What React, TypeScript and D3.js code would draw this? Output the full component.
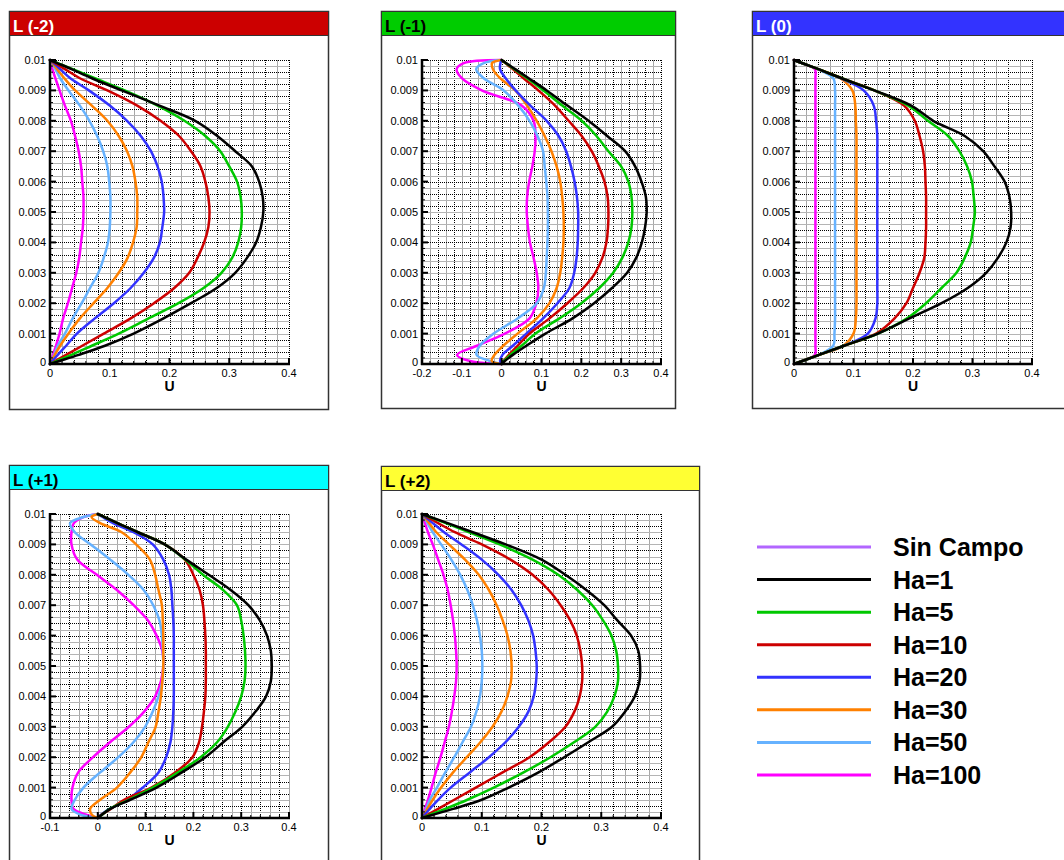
import React from "react";
import * as d3 from "d3";

// wall-normal positions (m) at which the U profiles were read
const Y_LEVELS = [0, 0.0001, 0.0003, 0.0006, 0.001, 0.0015, 0.002, 0.0025, 0.003, 0.0035, 0.004, 0.0045, 0.005, 0.0055, 0.006, 0.0065, 0.007, 0.0075, 0.008, 0.0085, 0.009, 0.0094, 0.0097, 0.0099, 0.01];

const SERIES_NAMES = ["Sin Campo", "Ha=1", "Ha=5", "Ha=10", "Ha=20", "Ha=30", "Ha=50", "Ha=100"];
const SERIES_COLORS = ["#b266ff", "#000000", "#00c800", "#cc0000", "#3232ff", "#ff8000", "#66b2ff", "#ff00ff"];

// U values, one row per Ha (1, 5, 10, 20, 30, 50, 100)
const U_LM2 = [
  [0, 0.016, 0.048, 0.092, 0.14, 0.19, 0.236, 0.279, 0.31, 0.33, 0.345, 0.353, 0.357, 0.356, 0.35, 0.338, 0.31, 0.28, 0.243, 0.183, 0.12, 0.07, 0.036, 0.012, 0],
  [0, 0.012, 0.036, 0.07, 0.115, 0.165, 0.215, 0.257, 0.287, 0.305, 0.315, 0.32, 0.321, 0.319, 0.313, 0.3, 0.285, 0.26, 0.225, 0.18, 0.125, 0.075, 0.038, 0.013, 0],
  [0, 0.009, 0.027, 0.054, 0.09, 0.135, 0.174, 0.208, 0.233, 0.247, 0.258, 0.265, 0.267, 0.265, 0.26, 0.252, 0.236, 0.216, 0.185, 0.146, 0.096, 0.05, 0.025, 0.008, 0],
  [0, 0.004, 0.013, 0.027, 0.045, 0.075, 0.107, 0.135, 0.157, 0.174, 0.184, 0.188, 0.191, 0.19, 0.187, 0.18, 0.169, 0.152, 0.129, 0.1, 0.065, 0.034, 0.017, 0.006, 0],
  [0, 0.003, 0.008, 0.017, 0.031, 0.05, 0.073, 0.096, 0.115, 0.13, 0.139, 0.145, 0.146, 0.146, 0.143, 0.138, 0.129, 0.115, 0.096, 0.07, 0.042, 0.024, 0.012, 0.004, 0],
  [0, 0.002, 0.007, 0.013, 0.025, 0.038, 0.053, 0.067, 0.081, 0.09, 0.097, 0.1, 0.101, 0.101, 0.099, 0.096, 0.089, 0.079, 0.066, 0.05, 0.031, 0.017, 0.009, 0.003, 0],
  [0, 0.002, 0.005, 0.01, 0.016, 0.022, 0.03, 0.037, 0.044, 0.049, 0.052, 0.055, 0.056, 0.056, 0.054, 0.052, 0.048, 0.042, 0.035, 0.025, 0.016, 0.009, 0.004, 0.001, 0],
];

const U_LM1 = [
  [0, 0.008, 0.028, 0.062, 0.11, 0.178, 0.232, 0.277, 0.315, 0.338, 0.352, 0.36, 0.364, 0.362, 0.351, 0.335, 0.31, 0.265, 0.218, 0.165, 0.113, 0.068, 0.034, 0.011, 0],
  [0, 0.006, 0.022, 0.05, 0.085, 0.145, 0.2, 0.245, 0.28, 0.303, 0.318, 0.326, 0.328, 0.326, 0.318, 0.3, 0.268, 0.238, 0.201, 0.152, 0.105, 0.064, 0.032, 0.01, 0],
  [0, 0.005, 0.018, 0.04, 0.07, 0.12, 0.165, 0.205, 0.235, 0.253, 0.263, 0.267, 0.268, 0.266, 0.258, 0.244, 0.226, 0.201, 0.168, 0.134, 0.092, 0.055, 0.028, 0.009, 0],
  [0, -0.004, 0.002, 0.028, 0.062, 0.104, 0.14, 0.17, 0.182, 0.188, 0.191, 0.192, 0.192, 0.189, 0.183, 0.174, 0.162, 0.143, 0.113, 0.072, 0.035, 0.01, -0.004, -0.003, 0],
  [0, -0.025, -0.018, 0.004, 0.04, 0.088, 0.12, 0.138, 0.147, 0.152, 0.155, 0.156, 0.155, 0.152, 0.147, 0.138, 0.125, 0.108, 0.088, 0.064, 0.034, -0.004, -0.022, -0.024, 0],
  [0, -0.03, -0.063, -0.055, -0.02, 0.04, 0.088, 0.106, 0.111, 0.113, 0.115, 0.116, 0.116, 0.115, 0.112, 0.108, 0.104, 0.09, 0.07, 0.042, 0.005, -0.045, -0.064, -0.045, 0],
  [0, -0.08, -0.112, -0.062, 0.008, 0.07, 0.087, 0.092, 0.088, 0.08, 0.071, 0.066, 0.063, 0.064, 0.069, 0.077, 0.083, 0.085, 0.08, 0.05, -0.05, -0.1, -0.113, -0.095, 0],
];

const U_L0 = [
  [0, 0.014, 0.042, 0.084, 0.141, 0.194, 0.248, 0.292, 0.323, 0.343, 0.357, 0.364, 0.365, 0.362, 0.354, 0.337, 0.318, 0.287, 0.234, 0.197, 0.135, 0.08, 0.041, 0.013, 0],
  [0, 0.014, 0.042, 0.084, 0.141, 0.19, 0.222, 0.248, 0.273, 0.287, 0.297, 0.301, 0.304, 0.302, 0.299, 0.291, 0.278, 0.259, 0.225, 0.192, 0.135, 0.08, 0.041, 0.013, 0],
  [0, 0.014, 0.042, 0.084, 0.138, 0.169, 0.189, 0.2, 0.211, 0.219, 0.221, 0.222, 0.222, 0.222, 0.221, 0.22, 0.217, 0.211, 0.203, 0.185, 0.135, 0.08, 0.041, 0.013, 0],
  [0, 0.014, 0.042, 0.084, 0.124, 0.137, 0.14, 0.14, 0.14, 0.14, 0.14, 0.14, 0.14, 0.14, 0.14, 0.14, 0.14, 0.14, 0.138, 0.134, 0.117, 0.078, 0.04, 0.013, 0],
  [0, 0.014, 0.042, 0.083, 0.1, 0.104, 0.105, 0.105, 0.105, 0.105, 0.105, 0.105, 0.105, 0.105, 0.105, 0.105, 0.105, 0.105, 0.104, 0.103, 0.098, 0.078, 0.04, 0.013, 0],
  [0, 0.014, 0.042, 0.066, 0.068, 0.069, 0.069, 0.069, 0.069, 0.069, 0.069, 0.069, 0.069, 0.069, 0.069, 0.069, 0.069, 0.069, 0.069, 0.069, 0.069, 0.066, 0.04, 0.013, 0],
  [0, 0.014, 0.035, 0.036, 0.036, 0.036, 0.036, 0.036, 0.036, 0.036, 0.036, 0.036, 0.036, 0.036, 0.036, 0.036, 0.036, 0.036, 0.036, 0.036, 0.036, 0.036, 0.035, 0.013, 0],
];

const U_LP1 = [
  [0, 0.008, 0.026, 0.068, 0.123, 0.176, 0.225, 0.263, 0.302, 0.33, 0.352, 0.362, 0.364, 0.362, 0.354, 0.339, 0.315, 0.278, 0.232, 0.185, 0.14, 0.084, 0.041, 0.014, 0],
  [0, 0.008, 0.025, 0.065, 0.115, 0.168, 0.215, 0.25, 0.272, 0.288, 0.3, 0.307, 0.309, 0.308, 0.305, 0.3, 0.291, 0.262, 0.22, 0.183, 0.14, 0.084, 0.041, 0.014, 0],
  [0, 0.007, 0.027, 0.055, 0.112, 0.162, 0.198, 0.212, 0.218, 0.222, 0.225, 0.226, 0.226, 0.226, 0.225, 0.223, 0.22, 0.213, 0.2, 0.182, 0.14, 0.084, 0.041, 0.014, 0],
  [0, 0.006, 0.025, 0.062, 0.094, 0.127, 0.143, 0.152, 0.156, 0.158, 0.159, 0.159, 0.159, 0.159, 0.159, 0.158, 0.156, 0.154, 0.149, 0.137, 0.115, 0.075, 0.032, 0.01, 0],
  [0, -0.012, -0.016, 0.005, 0.04, 0.068, 0.091, 0.106, 0.121, 0.127, 0.132, 0.135, 0.137, 0.137, 0.137, 0.136, 0.134, 0.127, 0.12, 0.109, 0.08, 0.05, 0.005, -0.013, 0],
  [0, -0.035, -0.055, -0.048, -0.03, 0.005, 0.043, 0.075, 0.099, 0.115, 0.127, 0.135, 0.137, 0.136, 0.134, 0.129, 0.116, 0.096, 0.064, 0.026, -0.015, -0.048, -0.058, -0.03, 0],
  [0, -0.023, -0.051, -0.055, -0.053, -0.041, -0.01, 0.026, 0.065, 0.097, 0.12, 0.132, 0.137, 0.135, 0.123, 0.105, 0.075, 0.04, -0.002, -0.043, -0.055, -0.055, -0.05, -0.03, 0],
];

const U_LP2 = [
  [0, 0.017, 0.052, 0.1, 0.145, 0.195, 0.238, 0.279, 0.318, 0.34, 0.356, 0.364, 0.365, 0.362, 0.35, 0.327, 0.305, 0.275, 0.24, 0.2, 0.14, 0.085, 0.043, 0.014, 0],
  [0, 0.013, 0.039, 0.076, 0.12, 0.17, 0.215, 0.255, 0.29, 0.31, 0.322, 0.328, 0.328, 0.325, 0.317, 0.303, 0.285, 0.26, 0.228, 0.185, 0.13, 0.079, 0.04, 0.013, 0],
  [0, 0.009, 0.027, 0.054, 0.09, 0.135, 0.18, 0.213, 0.24, 0.255, 0.264, 0.268, 0.268, 0.265, 0.259, 0.248, 0.232, 0.212, 0.185, 0.148, 0.1, 0.055, 0.027, 0.009, 0],
  [0, 0.004, 0.013, 0.027, 0.048, 0.08, 0.112, 0.14, 0.162, 0.178, 0.187, 0.191, 0.192, 0.19, 0.186, 0.178, 0.166, 0.15, 0.128, 0.1, 0.066, 0.037, 0.018, 0.006, 0],
  [0, 0.003, 0.009, 0.018, 0.032, 0.052, 0.075, 0.098, 0.118, 0.133, 0.143, 0.149, 0.15, 0.148, 0.143, 0.135, 0.125, 0.112, 0.095, 0.072, 0.045, 0.024, 0.012, 0.004, 0],
  [0, 0.002, 0.007, 0.013, 0.025, 0.039, 0.054, 0.068, 0.082, 0.091, 0.097, 0.1, 0.101, 0.1, 0.097, 0.092, 0.085, 0.076, 0.064, 0.049, 0.032, 0.018, 0.009, 0.003, 0],
  [0, 0.002, 0.005, 0.01, 0.016, 0.023, 0.031, 0.038, 0.045, 0.05, 0.054, 0.057, 0.058, 0.057, 0.055, 0.052, 0.048, 0.043, 0.036, 0.027, 0.018, 0.01, 0.005, 0.002, 0],
];

const PANEL_TITLES = ["L (-2)", "L (-1)", "L (0)", "L (+1)", "L (+2)"];
const PANEL_HEADER_COLORS = ["#cc0000", "#00cc00", "#3333ff", "#00ffff", "#ffff33"];
const PANEL_TITLE_COLORS = ["#ffffff", "#000000", "#ffffff", "#000000", "#000000"];
const PANEL_DATA = [U_LM2, U_LM1, U_L0, U_LP1, U_LP2];
const PANEL_X_MIN = [0, -0.2, 0, -0.1, 0];
const X_MAX = 0.4;
const Y_MAX = 0.01;
const X_TICKS = [
  [0, 0.1, 0.2, 0.3, 0.4],
  [-0.2, -0.1, 0, 0.1, 0.2, 0.3, 0.4],
  [0, 0.1, 0.2, 0.3, 0.4],
  [-0.1, 0, 0.1, 0.2, 0.3, 0.4],
  [0, 0.1, 0.2, 0.3, 0.4],
];
const Y_TICKS = [0, 0.001, 0.002, 0.003, 0.004, 0.005, 0.006, 0.007, 0.008, 0.009, 0.01];

// page layout: frame box and plot box [x0, y0, x1, y1]
const LAYOUT = [
  { frame: [9, 11, 328, 409], plot: [50, 60, 289, 364] },
  { frame: [381, 11, 675, 408], plot: [422, 60, 661, 364] },
  { frame: [752, 11, 1080, 408], plot: [794, 60, 1032, 364] },
  { frame: [9, 465, 328, 900], plot: [50, 514, 289, 818] },
  { frame: [381, 466, 699, 900], plot: [422, 514, 661, 818] },
];

const FONT = "'Liberation Sans', Arial, Helvetica, sans-serif";

const fmt = (v: number) => String(+v.toFixed(4));

function Panel({ i }: { i: number }) {
  const [fx0, fy0, fx1, fy1] = LAYOUT[i].frame;
  const [px0, py0, px1, py1] = LAYOUT[i].plot;
  const xMin = PANEL_X_MIN[i];

  const x = d3.scaleLinear().domain([xMin, X_MAX]).range([px0, px1]);
  const y = d3.scaleLinear().domain([0, Y_MAX]).range([py1, py0]);

  const line = d3
    .line<number>()
    .x((u) => x(u))
    .y((_, k) => y(Y_LEVELS[k]))
    .curve(d3.curveCatmullRom.alpha(0.5));

  // grid every 0.02 in U and 0.0002 in y
  const nx = Math.round((X_MAX - xMin) / 0.02);
  const gridX = d3.range(nx + 1).map((k) => xMin + k * 0.02);
  const gridY = d3.range(51).map((k) => k * 0.0002);

  const curves = PANEL_DATA[i];

  return (
    <g>
      <rect x={fx0 + 0.5} y={fy0 + 0.5} width={fx1 - fx0} height={fy1 - fy0} fill="#fff" stroke="#333" strokeWidth={1.5} />
      <rect x={fx0 + 0.5} y={fy0 + 0.5} width={fx1 - fx0} height={24} fill={PANEL_HEADER_COLORS[i]} stroke="#333" strokeWidth={1} />
      <text x={fx0 + 4} y={fy0 + 21} fontSize={17} fontWeight="bold" fill={PANEL_TITLE_COLORS[i]} fontFamily={FONT}>
        {PANEL_TITLES[i]}
      </text>

      {/* grid: dotted lines, every other one shows as a grey rule like the source */}
      <g strokeWidth={1}>
        {gridX.map((v, k) => (
          <line
            key={"gx" + k}
            x1={Math.round(x(v)) + 0.5}
            x2={Math.round(x(v)) + 0.5}
            y1={py0}
            y2={py1}
            stroke={k % 2 ? "#a8a8a8" : "#000"}
            strokeDasharray={k % 2 ? undefined : "1 1"}
          />
        ))}
        {gridY.map((v, k) => (
          <line
            key={"gy" + k}
            x1={px0}
            x2={px1}
            y1={Math.round(y(v)) + 0.5}
            y2={Math.round(y(v)) + 0.5}
            stroke={k % 2 ? "#b4b4b4" : "#000"}
            strokeDasharray={k % 2 ? undefined : "1 1"}
          />
        ))}
      </g>

      {/* curves, Ha=100 first so Ha=1 sits on top */}
      <g fill="none" strokeWidth={2.5} strokeLinejoin="round" strokeLinecap="round">
        {curves
          .map((u, k) => ({ u, k }))
          .reverse()
          .map(({ u, k }) => (
            <path key={"c" + k} d={line(u) || ""} stroke={SERIES_COLORS[k + 1]} />
          ))}
      </g>

      {/* axes */}
      <g stroke="#000">
        <line x1={px0} x2={px0} y1={py0 - 1} y2={py1 + 1} strokeWidth={2.5} />
        <line x1={px0 - 1} x2={px1 + 1} y1={py1} y2={py1} strokeWidth={2.5} />
        {gridY.map((v, k) => (
          <line key={"ty" + k} x1={px0} x2={px0 + (k % 5 === 0 ? 6 : 3)} y1={y(v)} y2={y(v)} strokeWidth={k % 5 === 0 ? 2 : 1} />
        ))}
        {gridX.map((v, k) => (
          <line key={"tx" + k} x1={x(v)} x2={x(v)} y1={py1} y2={py1 - (k % 5 === 0 ? 6 : 3)} strokeWidth={k % 5 === 0 ? 2 : 1} />
        ))}
      </g>

      <g fontFamily={FONT} fontSize={11} fill="#000">
        {Y_TICKS.map((v) => (
          <text key={"ly" + v} x={px0 - 4} y={y(v) + (v === 0 ? 2 : 4)} textAnchor="end">
            {fmt(v)}
          </text>
        ))}
        {X_TICKS[i].map((v) => (
          <text key={"lx" + v} x={x(v)} y={py1 + 13} textAnchor="middle">
            {fmt(v)}
          </text>
        ))}
      </g>
      <text x={(px0 + px1) / 2} y={py1 + 27} textAnchor="middle" fontFamily={FONT} fontSize={14} fontWeight="bold">
        U
      </text>
    </g>
  );
}

function Legend() {
  const ly = d3.scaleLinear().domain([0, SERIES_NAMES.length - 1]).range([547, 775]);
  return (
    <g fontFamily={FONT}>
      {SERIES_NAMES.map((name, k) => (
        <g key={name}>
          <line x1={757} x2={871} y1={ly(k)} y2={ly(k)} stroke={SERIES_COLORS[k]} strokeWidth={3} />
          <text x={893} y={ly(k) + 9} fontSize={25} fontWeight="bold" fill="#000">
            {name}
          </text>
        </g>
      ))}
    </g>
  );
}

export default function App() {
  return (
    <svg width={1064} height={860} style={{ position: "absolute", left: 0, top: 0, background: "#fff" }}>
      {PANEL_TITLES.map((_, i) => (
        <Panel key={i} i={i} />
      ))}
      <Legend />
    </svg>
  );
}
